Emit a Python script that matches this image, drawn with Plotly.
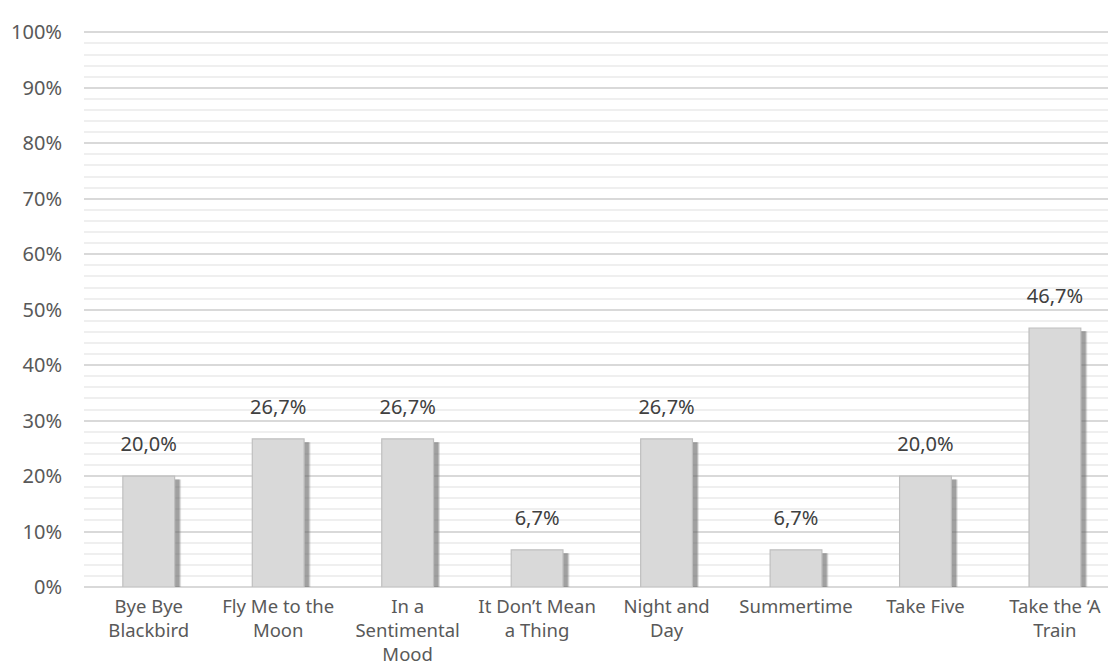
import plotly.graph_objects as go

categories = ["Bye Bye<br>Blackbird", "Fly Me to the<br>Moon", "In a<br>Sentimental<br>Mood",
              "It Don’t Mean<br>a Thing", "Night and<br>Day", "Summertime", "Take Five",
              "Take the ‘A<br>Train"]
values = [20.0, 26.7, 26.7, 6.7, 26.7, 6.7, 20.0, 46.7]
y_ticks = [0, 10, 20, 30, 40, 50, 60, 70, 80, 90, 100]
y_tick_labels = [f"{t}%" for t in y_ticks]

FONT = "Noto Sans"
bw = 0.40

fig = go.Figure()
# soft shadow layers
for dx, alpha in [(0.050, 0.18), (0.043, 0.30), (0.036, 0.40)]:
    fig.add_trace(go.Bar(
        x=categories, y=[v - 0.6 for v in values], width=bw, offset=-bw/2 + dx,
        marker=dict(color=f"rgba(110,110,110,{alpha})", line=dict(width=0)),
        hoverinfo="skip", showlegend=False))
fig.add_trace(go.Bar(
    x=categories, y=values, width=bw, offset=-bw/2,
    marker=dict(color="#d9d9d9", line=dict(color="#bfbfbf", width=1.2)),
    showlegend=False))
# data labels
fig.add_trace(go.Scatter(
    x=categories, y=values, mode="markers+text",
    marker=dict(size=30, opacity=0),
    text=[f"{v:.1f}%".replace(".", ",") for v in values],
    textposition="top center",
    textfont=dict(family=FONT, size=20, color="#404040"),
    cliponaxis=False, showlegend=False, hoverinfo="skip"))

fig.update_layout(
    barmode="overlay",
    width=1108, height=668,
    margin=dict(l=84, r=0, t=31, b=81),
    paper_bgcolor="white", plot_bgcolor="white",
    font=dict(family=FONT, size=20, color="#595959"),
)
fig.update_yaxes(range=[0, 100.25], tickvals=y_ticks, ticktext=y_tick_labels,
                 showgrid=True, gridcolor="#d9d9d9", gridwidth=1.5,
                 minor=dict(dtick=2, showgrid=True, gridcolor="#efefef", gridwidth=1.5),
                 zeroline=True, zerolinecolor="#d9d9d9", zerolinewidth=1.5,
                 showline=False, ticks="", ticklabelstandoff=21, automargin=False,
                 tickfont=dict(family=FONT, size=20, color="#595959"))
fig.update_xaxes(range=[-0.5, 7.41], showgrid=False, showline=False, ticks="",
                 ticklabelstandoff=6, automargin=False,
                 tickfont=dict(family=FONT, size=18.5, color="#595959"), tickangle=0)

fig.write_html("out.html")
